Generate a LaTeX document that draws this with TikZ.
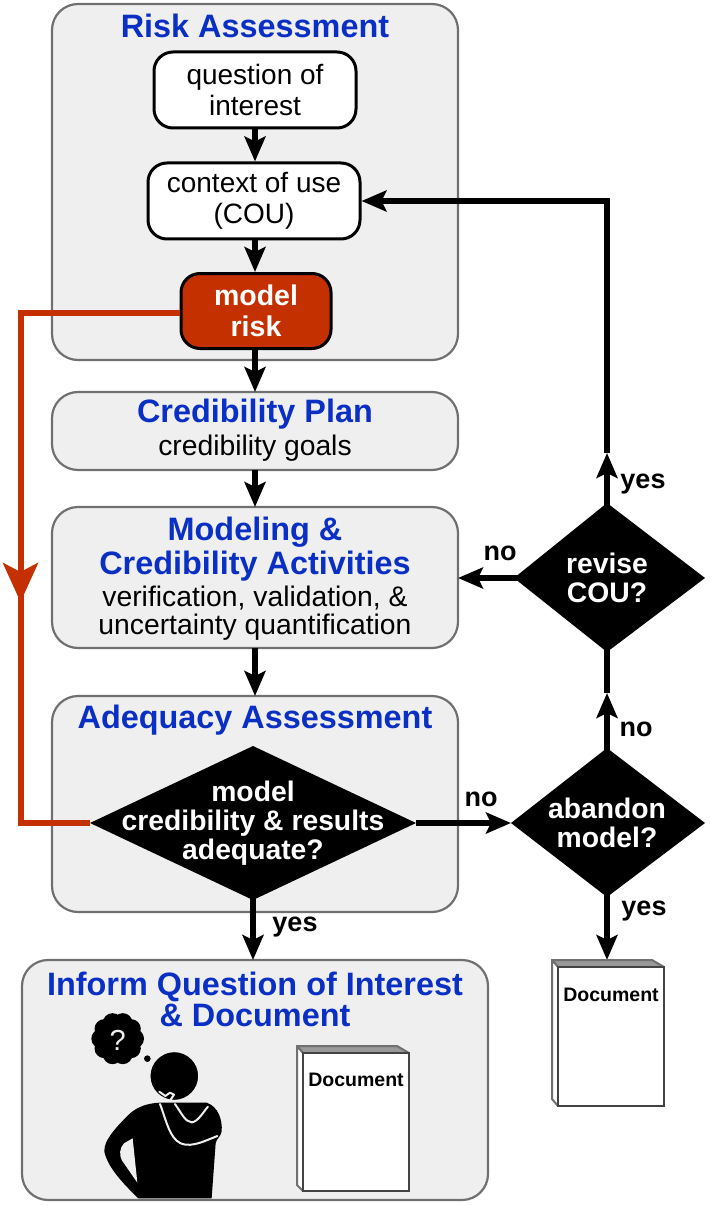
\documentclass[tikz,border=0pt]{standalone}
\usepackage{fontspec}
\setmainfont{Liberation Sans}
\usetikzlibrary{arrows.meta}
\definecolor{panel}{HTML}{EFEFEF}
\definecolor{edgegray}{HTML}{707070}
\definecolor{riskred}{HTML}{C43000}
\definecolor{headblue}{HTML}{0A2FC4}
\tikzset{
 x=1pt,y=-1pt,
 panelbox/.style={draw=edgegray,line width=2.2pt,fill=panel,rounded corners=26pt},
 whitebox/.style={draw=black,line width=3pt,fill=white,rounded corners=19pt,align=center,font=\fontsize{28}{31}\selectfont},
 redbox/.style={draw=black,line width=3pt,fill=riskred,rounded corners=19pt,align=center,text=white,font=\fontsize{28.5}{31}\bfseries\selectfont},
 head/.style={text=headblue,align=center,font=\fontsize{32.4}{34}\bfseries\selectfont},
 body/.style={align=center,font=\fontsize{28.3}{28}\selectfont},
 dectext/.style={text=white,align=center,font=\fontsize{28.3}{29}\bfseries\selectfont},
 flow/.style={line width=6.5pt,-{Stealth[length=25pt,width=21pt,inset=5pt]}},
 plainflow/.style={line width=6.5pt},
 lab/.style={font=\fontsize{27}{30}\bfseries\selectfont},
 redline/.style={draw=riskred,line width=6pt},
 doctext/.style={font=\fontsize{19.5}{22}\bfseries\selectfont},
 spine/.style={draw=edgegray,line width=2pt,fill=white,line join=round},
 topband/.style={draw=edgegray,line width=2pt,fill=gray!80,line join=round},
 docface/.style={draw=edgegray!60!black,line width=2.4pt,fill=white},
 halo/.style={draw=panel,line width=1.6pt,fill=black},
 armline/.style={draw=panel,line width=2pt,line cap=round,line join=round},
}
\begin{document}
\begin{tikzpicture}
\useasboundingbox (0,0) rectangle (709,1206);
% panels
\path[panelbox] (52,4) rectangle (458,360);
\path[panelbox] (52,392) rectangle (458,470);
\path[panelbox] (52,507) rectangle (458,648);
\path[panelbox] (52,696) rectangle (458,912);
\path[panelbox] (22,960) rectangle (488,1200);
\node[head] (h1) at (255,26) {Risk Assessment};
\node[head] (h2) at (255,414) {Credibility Plan};
\node[body] (b2) at (255,448) {credibility goals};
\node[head] (h3) at (255,549) {Modeling \&\\Credibility Activities};
\node[body] (b3) at (255,613) {verification, validation, \&\\uncertainty quantification};
\node[head] (h4) at (255,720) {Adequacy Assessment};
\node[head,font=\fontsize{32.4}{31}\bfseries\selectfont] (h5) at (255,999) {Inform Question of Interest\\\& Document};
% boxes
\node[whitebox,minimum width=202pt,minimum height=76pt] (q) at (255,90) {question of\\interest};
\node[whitebox,minimum width=212pt,minimum height=76pt] (c) at (254,201) {context of use\\(COU)};
\node[redbox,minimum width=150pt,minimum height=75pt] (m) at (256,311) {model\\risk};
% diamonds
\path[fill=black] (90,823) -- (253,746) -- (416,823) -- (253,900) -- cycle;
\coordinate (adL) at (90,823); \coordinate (adR) at (416,823);
\coordinate (adB) at (253,896);
\node[dectext] (adt) at (253,823) {model\\credibility \& results\\adequate?};
\path[fill=black] (511,823) -- (607,748) -- (705,823) -- (607,897) -- cycle;
\coordinate (abL) at (511,823);\coordinate (abT) at (607,753);\coordinate (abB) at (607,892);
\node[dectext] (abt) at (607,823) {abandon\\model?};
\path[fill=black] (514,578) -- (607,503) -- (705,578) -- (607,652) -- cycle;
\coordinate (reL) at (520,578);\coordinate (reT) at (607,508);\coordinate (reB) at (607,647);
\node[dectext] (ret) at (607,578) {revise\\COU?};
\coordinate (pA) at (458,578);
\coordinate (yesTip) at (607,453);
\coordinate (noTip) at (607,693);
\coordinate (corner) at (607,201);
\coordinate (pB) at (255,392);
\coordinate (pC) at (255,470);
\coordinate (pD) at (255,507);
\coordinate (pE) at (255,648);
\coordinate (pF) at (255,696);
\coordinate (pG) at (253,960);
\coordinate (docTip) at (607,960);
% black arrows
\draw[flow] (q.south -| pB) -- (c.north -| pB);
\draw[flow] (c.south -| pB) -- (m.north -| pB);
\draw[flow] (m.south -| pB) -- (pB);
\draw[flow] (pC) -- (pD);
\draw[flow] (pE) -- (pF);
\draw[flow] (adR) -- (abL);
\draw[flow] (abT) -- (noTip);
\draw[plainflow] (noTip) -- (reB);
\draw[flow] (reL) -- (pA);
\draw[flow] (reT) -- (yesTip);
\draw[flow,line join=miter] (yesTip) -- (corner) -- (c.east);
\draw[flow] (adB) -- (pG);
\draw[flow] (abB) -- (docTip);
\node[lab] (n1) at (481,799) {no};
\node[lab] (n2) at (636,729) {no};
\node[lab] (n3) at (500,553) {no};
\node[lab] (y1) at (643,484) {yes};
\node[lab] (y2) at (644,911) {yes};
\node[lab] (y3) at (295,927) {yes};
% red line
\coordinate (redTip) at (20.5,602);
\coordinate (redTop) at (20.5,313);
\coordinate (redBot) at (20.5,823);
\draw[redline,line join=miter,-{Stealth[length=39pt,width=35pt,inset=9pt]}] (m.west |- redTop) -- (redTop) -- (redTip);
\draw[redline,line join=miter] (20.5,590) -- (redBot) -- (adL);
% documents
\begin{scope}[shift={(552,959)}]
 \path[topband] (0,1) -- (100,1) -- (112,8) -- (6,8) -- cycle;
 \path[spine] (0,1) -- (0,140) -- (6,147) -- (6,8) -- cycle;
 \path[docface] (6,8) rectangle (112,147);
\end{scope}
\node[doctext] (d1) at (611,995) {Document};
\begin{scope}[shift={(297,1045)}]
 \path[topband] (0,1) -- (100,1) -- (112,8) -- (6,8) -- cycle;
 \path[spine] (0,1) -- (0,140) -- (6,146) -- (6,8) -- cycle;
 \path[docface] (6,8) rectangle (112,146);
\end{scope}
\node[doctext] (d2) at (356,1080) {Document};
% person (drawn in a 3x grid)
\begin{scope}[shift={(50,950)},x=0.3333pt,y=-0.3333pt]
 \fill[black] (203,266) circle (52);
 \foreach \ang in {0,36,...,324}
   \fill[black] (203,266) ++(\ang:50) circle (29);
 \node[text=panel,font=\fontsize{29}{30}\selectfont] (qm) at (203,270) {?};
 \path[halo] (292,326) circle (13);
 \path[halo] (373,378) circle (74);
 \path[fill=black] (265,745) .. controls (235,715) and (175,660) .. (163,605)
   .. controls (160,570) and (205,525) .. (240,490)
   .. controls (265,470) and (290,460) .. (330,458) -- (470,458)
   .. controls (505,470) and (518,510) .. (515,545)
   .. controls (512,560) and (500,565) .. (497,580) -- (485,745) -- cycle;
 \path[fill=panel] (248,565) -- (222,580) .. controls (208,595) and (208,615) .. (215,630) -- (262,698) -- cycle;
 \path[armline] (330,462) .. controls (345,500) and (355,550) .. (380,572) .. controls (410,600) and (460,575) .. (502,558);
 \path[armline] (375,462) .. controls (395,490) and (405,515) .. (425,517) .. controls (445,515) and (460,485) .. (474,470);
 \path[armline] (328,425) -- (346,438) -- (360,428) -- (372,434) -- (360,452);
\end{scope}
\end{tikzpicture}
\end{document}
